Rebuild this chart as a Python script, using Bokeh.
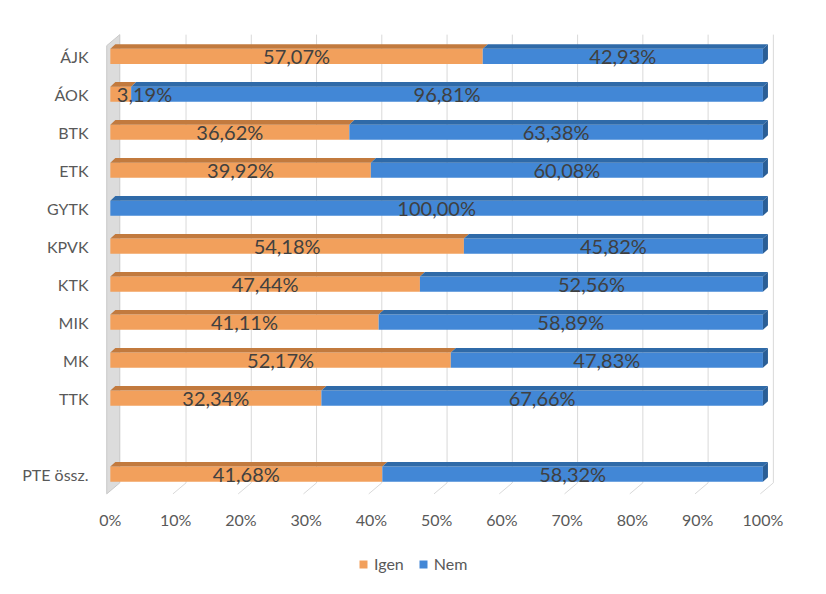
from bokeh.plotting import figure
from bokeh.models import Range1d, FixedTicker, Legend, LegendItem
from bokeh.layouts import column
from bokeh.embed import file_html
from bokeh.resources import INLINE

# ---- data ----
categories = ["ÁJK", "ÁOK", "BTK", "ETK", "GYTK", "KPVK", "KTK", "MIK", "MK", "TTK", "", "PTE össz."]
igen = [57.07, 3.19, 36.62, 39.92, 0.00, 54.18, 47.44, 41.11, 52.17, 32.34, None, 41.68]
nem = [42.93, 96.81, 63.38, 60.08, 100.00, 45.82, 52.56, 58.89, 47.83, 67.66, None, 58.32]
x_ticks = [0, 10, 20, 30, 40, 50, 60, 70, 80, 90, 100]
series_names = ["Igen", "Nem"]

# ---- style ----
ORANGE, ORANGE_TOP = "#F2A05C", "#C27A3E"
BLUE, BLUE_TOP, BLUE_END = "#4287D6", "#2F6AA8", "#2A5E96"
GRID = "#D9D9D9"
TXT = "#595959"
LBL = "#404040"
FONT = "Lato"

HALF = 0.2      # half height of the bar front face (category units)
DX, DY = 0.77, 0.12   # bar depth offset
GDX, GDY = 2.0, 0.29  # wall depth offset

p = figure(width=810, height=534, output_backend="svg", toolbar_location=None,
           x_range=Range1d(-1.2, 103.0), y_range=Range1d(11.8, -0.6),
           min_border_left=102, min_border_right=28, min_border_top=33, min_border_bottom=30)
p.frame_width = 680
p.frame_height = 471
p.outline_line_color = None
p.background_fill_color = "white"
p.grid.visible = False

# axes
p.xaxis.ticker = FixedTicker(ticks=x_ticks)
p.xaxis.major_label_overrides = {t: f"{t}%" for t in x_ticks}
p.yaxis.ticker = FixedTicker(ticks=[i for i, c in enumerate(categories) if c])
p.yaxis.major_label_overrides = {i: c for i, c in enumerate(categories) if c}
for ax in (p.xaxis[0], p.yaxis[0]):
    ax.axis_line_color = None
    ax.major_tick_line_color = None
    ax.minor_tick_line_color = None
    ax.major_tick_out = 0
    ax.major_tick_in = 0
    ax.minor_tick_out = 0
    ax.minor_tick_in = 0
    ax.major_label_text_font = FONT
    ax.major_label_text_font_size = "16px"
    ax.major_label_text_color = TXT
p.xaxis.major_label_standoff = 5
p.yaxis.major_label_standoff = 14

# geometry of the floor / wall
y_top_front = -0.28
y_bot_front = len(categories) - 0.48

# gridlines (back vertical + floor slant)
gx_back = [t + 1.6 for t in x_ticks[1:]]
gx_front = [t - 0.4 for t in x_ticks[1:]]
p.segment(x0=gx_back, y0=[y_top_front - GDY] * len(gx_back), x1=gx_back,
          y1=[y_bot_front - GDY] * len(gx_back), line_color=GRID, line_width=1)
p.segment(x0=gx_back, y0=[y_bot_front - GDY] * len(gx_back), x1=gx_front,
          y1=[y_bot_front] * len(gx_back), line_color=GRID, line_width=1)

# left wall
wf = -0.55
p.patch(x=[wf, wf + GDX, wf + GDX, wf],
        y=[y_top_front, y_top_front - GDY, y_bot_front - GDY, y_bot_front],
        fill_color="#DCDCDC", line_color="#C8C8C8", line_width=1)

# bars
rows = [(i, a, b) for i, (a, b) in enumerate(zip(igen, nem)) if a is not None]

def faces(segs):
    xs, ys = [], []
    for (y, x0, x1) in segs:
        yt = y - HALF
        xs.append([x0, x1, x1 + DX, x0 + DX])
        ys.append([yt, yt, yt - DY, yt - DY])
    return xs, ys

o_segs = [(i, 0.0, a) for i, a, b in rows if a > 0]
b_segs = [(i, a, a + b) for i, a, b in rows if b > 0]

p.quad(left=[s[1] for s in o_segs], right=[s[2] for s in o_segs],
       top=[s[0] - HALF for s in o_segs], bottom=[s[0] + HALF for s in o_segs],
       fill_color=ORANGE, line_color=None)
xs, ys = faces(o_segs)
p.patches(xs=xs, ys=ys, fill_color=ORANGE_TOP, line_color=None)

p.quad(left=[s[1] for s in b_segs], right=[s[2] for s in b_segs],
       top=[s[0] - HALF for s in b_segs], bottom=[s[0] + HALF for s in b_segs],
       fill_color=BLUE, line_color=None)
xs, ys = faces(b_segs)
p.patches(xs=xs, ys=ys, fill_color=BLUE_TOP, line_color=None)

# end faces
exs, eys = [], []
for (y, x0, x1) in b_segs:
    yt, yb = y - HALF, y + HALF
    exs.append([x1, x1 + DX, x1 + DX, x1])
    eys.append([yt, yt - DY, yb - DY, yb])
p.patches(xs=exs, ys=eys, fill_color=BLUE_END, line_color=None)

# value labels
def fmt(v):
    return f"{v:.2f}%".replace(".", ",")

center_x, center_y, center_t = [], [], []
left_x, left_y, left_t = [], [], []
for (y, x0, x1) in o_segs + b_segs:
    w = x1 - x0
    if w < 8:
        left_x.append(x0 + 1.0); left_y.append(y); left_t.append(fmt(w))
    else:
        center_x.append((x0 + x1) / 2); center_y.append(y); center_t.append(fmt(w))

p.text(x=center_x, y=center_y, text=center_t, text_align="center", text_baseline="middle",
       text_font_size="20px", text_color=LBL, text_font={"value": FONT})
p.text(x=left_x, y=left_y, text=left_t, text_align="left", text_baseline="middle",
       text_font_size="20px", text_color=LBL, text_font={"value": FONT})

# legend strip (separate small figure below the chart, frame aligned with the chart)
lg = figure(width=810, height=44, output_backend="svg", toolbar_location=None,
            x_range=Range1d(0, 1), y_range=Range1d(0, 1),
            min_border=0, min_border_left=0, min_border_right=0,
            min_border_top=0, min_border_bottom=0)
lg.axis.visible = False
lg.grid.visible = False
lg.outline_line_color = None
# legend-key renderers (placeholder geometry outside the visible range)
r_o = lg.quad(left=[2], right=[3], top=[3], bottom=[2], fill_color=ORANGE, line_color=None)
r_b = lg.quad(left=[2], right=[3], top=[3], bottom=[2], fill_color=BLUE, line_color=None)
legend = Legend(items=[LegendItem(label=series_names[0], renderers=[r_o]),
                       LegendItem(label=series_names[1], renderers=[r_b])],
                orientation="horizontal", location=(256, 5),
                glyph_width=10, glyph_height=10, label_standoff=6, spacing=14,
                padding=0, margin=0, border_line_color=None, background_fill_alpha=0,
                label_text_font=FONT, label_text_font_size="16px", label_text_color=TXT)
lg.add_layout(legend)

open("out.html", "w").write(file_html(column(p, lg, spacing=0), INLINE))
